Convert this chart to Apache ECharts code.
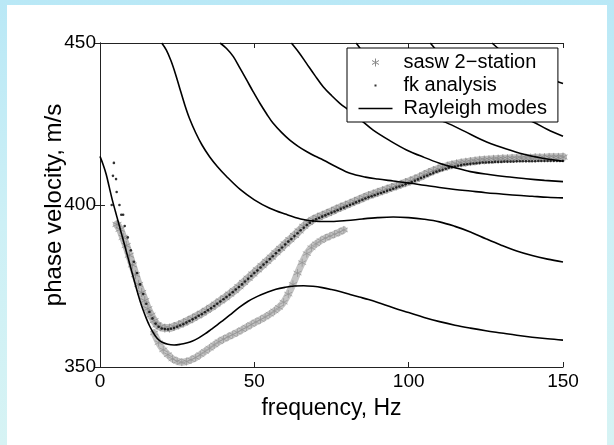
<!DOCTYPE html>
<html>
<head>
<meta charset="utf-8">
<script src="https://cdn.jsdelivr.net/npm/echarts@6/dist/echarts.min.js"></script>
<style>
html,body{margin:0;padding:0;width:614px;height:445px;overflow:hidden;}
body{background:linear-gradient(180deg,#b9e8f6 0%,#cdf0f6 50%,#d6f3f4 100%);position:relative;}
#panel{position:absolute;left:7px;top:5px;width:600px;height:440px;background:#fff;}
#chart{position:absolute;left:0;top:0;width:614px;height:445px;}
</style>
</head>
<body>
<div id="panel"></div>
<div id="chart"></div>
<script>
// Rayleigh mode dispersion curves [frequency Hz, phase velocity m/s]
const mode0 = [[0,415],[1,412.5],[2,409.5],[3,405.5],[4,401.5],[5,398],[6,394.5],[7,391],[8,387.5],[9,384],[10,380.5],[11,377],[12,373.5],[13,370.3],[14,367.5],[15,365],[16,362.8],[17,361],[18,359.5],[19,358.4],[20,357.7],[22,357],[24,356.8],[26,357],[28,357.4],[30,358],[32,359],[34,360.2],[36,361.6],[38,363],[40,364.5],[42,366],[45,368.3],[48,370.3],[51,371.8],[54,373],[57,374],[60,374.6],[63,375],[66,375.1],[69,374.9],[72,374.5],[75,373.9],[78,373.2],[81,372.4],[84,371.6],[87,370.8],[90,369.9],[95,368.3],[100,366.8],[105,365.3],[110,364],[115,362.9],[120,362],[125,361.2],[130,360.5],[135,359.8],[140,359.2],[145,358.7],[150,358.3]];
const mode1 = [[20,450],[21.5,447.8],[23,444.5],[24.5,440.3],[26,435.5],[27.5,430.8],[29,426.7],[31,422.3],[33,418.6],[35.5,414.9],[38,411.9],[41,408.8],[45.4,404.8],[50,401.6],[55,399],[60,397.2],[65,395.7],[70,395],[75,394.9],[80,395.2],[85,395.7],[90,396.1],[95,396.3],[100,396.1],[105,395.6],[110,394.8],[115,393.4],[120,391.7],[125,389.6],[130,387.6],[135,385.8],[140,384.4],[145,383.3],[150,382.4]];
const mode2 = [[38.9,450],[41,448.3],[43.2,445.8],[45.3,442.3],[47.5,438.6],[49.6,435],[51.8,431.4],[54,428.1],[56.1,425.2],[58.8,422.4],[61.5,420],[64.2,418.1],[66.9,416.5],[69.6,415.1],[72.3,413.9],[76.5,411.8],[81,409.8],[86,408.6],[90,408],[95,407.4],[100,406.8],[105,406.1],[110,405.4],[115,404.8],[120,404.3],[125,403.8],[130,403.4],[135,403],[140,402.7],[145,402.4],[150,402.2]];
const mode3 = [[62,450],[64.5,447],[66.9,443.7],[69.6,440],[72.3,436.5],[75,433.8],[77.7,431.4],[81,429],[84.8,426],[88.5,423.1],[94,419.8],[99.3,417],[105,414.7],[110,412.9],[115,411.5],[120,410.3],[126,409.4],[131.7,408.7],[138,408.1],[144,407.6],[150,407.2]];
const mode4 = [[83,450],[86,446],[89,441.5],[92,437.5],[95,434.5],[99,431],[104,428],[108,426.8],[112,425.5],[118,422.8],[124,420],[130,417.8],[136,416],[143,414.5],[150,413.5]];
const mode5 = [[107,450],[110,446.5],[113,442.5],[116,439],[120,435.5],[125,432],[130,429.5],[135,427.5],[140,425.8],[145,423.3],[150,421.2]];
const mode6 = [[127,450],[130,447.5],[134,444.5],[138,442],[142,440.3],[146,438.8],[150,437.5]];

// SASW 2-station measurements (two branches)
const saswUpper = [[5.5,394],[6.5,392.5],[7.5,390],[8.5,387.5],[9.5,384.5],[10.5,381.5],[11.5,378.5],[12.5,375.5],[13.5,373],[14.5,370.5],[15.5,368],[16.5,366],[17.5,364.3],[18.5,363],[19.5,362.4],[21,362],[22.5,362],[24,362.5],[25.5,363],[27,363.6],[28.5,364.3],[30,365],[31.5,365.8],[33,366.6],[34.5,367.5],[36,368.4],[37.5,369.4],[39,370.4],[40.5,371.4],[42,372.5],[43.5,373.6],[45,374.8],[46.5,376.1],[48,377.4],[49.5,378.7],[51,380],[52.5,381.3],[54,382.6],[55.5,383.9],[57,385.3],[58.5,386.6],[60,388],[61.5,389.3],[63,390.6],[64.5,392],[66,393.4],[67.5,394.6],[69,395.5],[70.5,396.2],[72,396.8],[73.5,397.4],[75,398],[76.5,398.7],[78,399.3],[79.5,399.9],[81,400.5],[82.5,401.1],[84,401.7],[85.5,402.3],[87,402.9],[88.5,403.4],[90,403.9],[91.5,404.4],[93,404.9],[94.5,405.4],[96,405.9],[97.5,406.4],[99,406.9],[100.5,407.4],[102,408],[103.5,408.6],[105,409.3],[106.5,410],[108,410.6],[109.5,411.1],[111,411.6],[112.5,412],[114,412.4],[115.5,412.7],[117,413],[118.5,413.2],[120,413.4],[121.5,413.6],[123,413.8],[124.5,413.9],[126,414],[127.5,414.1],[129,414.2],[130.5,414.3],[132,414.3],[133.5,414.4],[135,414.4],[136.5,414.5],[138,414.5],[139.5,414.5],[141,414.6],[142.5,414.6],[144,414.6],[145.5,414.7],[147,414.7],[148.5,414.7],[150,414.8]];
const saswLower = [[17.5,360.5],[19,357.5],[20.5,355.3],[22,353.8],[23.5,352.5],[25,351.8],[26.5,351.5],[28,351.7],[29.5,352.2],[31,352.9],[32.5,353.8],[34,354.8],[35.5,355.8],[37,356.8],[38.5,357.8],[40,358.6],[41.5,359.3],[43,360],[44.5,360.7],[46,361.5],[47.5,362.3],[49,363.1],[50.5,363.9],[52,364.6],[53.5,365.4],[55,366.3],[56.5,367.3],[58,368.4],[59.5,370],[61,372.5],[62.5,375.5],[64,379],[65.5,382.2],[67,385],[68.5,386.8],[70,388],[71.5,389],[73,389.8],[74.5,390.4],[76,391],[77.5,391.6],[79,392.3]];

// f-k analysis picks
const fkData = [[4.5,413],[4.2,409],[5.2,408],[5.4,404],[3.8,400],[6.3,400],[6.9,397],[7.5,397],[8,393.5],[9,390],[10,386],[11,382.5],[12,379],[13,375.5],[14,372.5],[15,369.5],[16,367],[17,365],[18,363.4],[19,362.4],[20,361.9],[21,361.7],[22,361.6],[23,361.8],[24,362],[25,362.4],[26,362.8],[27,363.2],[28,363.7],[29,364.2],[30,364.7],[31,365.2],[32,365.8],[33,366.3],[34,366.9],[35,367.5],[36,368.1],[37,368.8],[38,369.5],[39,370.2],[40,370.9],[41,371.6],[42,372.3],[43,373.1],[44,373.9],[45,374.7],[46,375.5],[47,376.4],[48,377.2],[49,378.1],[50,379],[51,379.8],[52,380.7],[53,381.6],[54,382.4],[55,383.3],[56,384.2],[57,385.1],[58,386],[59,386.9],[60,387.8],[61,388.7],[62,389.5],[63,390.4],[64,391.3],[65,392.2],[66,393],[67,393.8],[68,394.5],[69,395.1],[70,395.6],[71,396],[72,396.4],[73,396.8],[74,397.2],[75,397.6],[76,398],[77,398.4],[78,398.8],[79,399.2],[80,399.6],[81,400],[82,400.4],[83,400.8],[84,401.2],[85,401.6],[86,402],[87,402.4],[88,402.7],[89,403],[90,403.4],[91,403.7],[92,404],[93,404.4],[94,404.7],[95,405],[96,405.4],[97,405.7],[98,406],[99,406.4],[100,406.7],[101,407.1],[102,407.5],[103,407.9],[104,408.3],[105,408.7],[106,409.1],[107,409.5],[108,409.9],[109,410.3],[110,410.6],[111,410.9],[112,411.2],[113,411.5],[114,411.7],[115,411.9],[116,412.1],[117,412.3],[118,412.5],[119,412.6],[120,412.7],[121,412.8],[122,412.9],[123,413],[124,413.1],[125,413.1],[126,413.2],[127,413.2],[128,413.3],[129,413.3],[130,413.3],[131,413.4],[132,413.4],[133,413.4],[134,413.4],[135,413.5],[136,413.5],[137,413.5],[138,413.5],[139,413.5],[140,413.5],[141,413.5],[142,413.6],[143,413.6],[144,413.6],[145,413.6],[146,413.6],[147,413.6],[148,413.6],[149,413.6],[150,413.6]];

const xTicks = {min:0, max:150, interval:50};
const yTicks = {min:350, max:450, interval:50};
const names = {sasw:'sasw 2\u2212station', fk:'fk analysis', modes:'Rayleigh modes', x:'frequency, Hz', y:'phase velocity, m/s'};

const FONT = 'Liberation Sans, Arial, Helvetica, sans-serif';
const starPath = 'path://M0,-4L0,4M-3.5,-2L3.5,2M-3.5,2L3.5,-2';
const starIcon = 'path://M-17,-7M17,7M0,-4L0,4M-3.5,-2L3.5,2M-3.5,2L3.5,-2';
const dotIcon = 'path://M-17,-7M17,7M-1,-1L1,-1L1,1L-1,1Z';
const lineIcon = 'path://M-17,-7M17,7M-17,-0.8L17,-0.8L17,0.8L-17,0.8Z';

const modeList = [mode0, mode1, mode2, mode3, mode4, mode5, mode6];
const modeSeries = modeList.map(d => ({
  name: names.modes, type:'line', data:d, smooth:0.35, showSymbol:false, symbol:'none',
  lineStyle:{color:'#000', width:1.6}, itemStyle:{color:'#000'}, z:3, silent:true, animation:false
}));

// gray ribbon under the dense sasw asterisks
function saswBand(d, w, c) {
  return {name:names.sasw, type:'line', data:d, smooth:0.3, showSymbol:false, symbol:'none',
    lineStyle:{color:c, width:w, cap:'round', join:'round'}, itemStyle:{color:c}, z:1, silent:true};
}
function saswMarks(d, s, c) {
  return {name:names.sasw, type:'scatter', data:d, symbol:starPath, symbolSize:s,
    itemStyle:{color:'rgba(0,0,0,0)', borderColor:c, borderWidth:0.9}, z:2, silent:true};
}

const chart = echarts.init(document.getElementById('chart'), null, {renderer:'canvas'});
const axisCommon = {
  axisLine:{show:true, lineStyle:{color:'#222', width:1}},
  axisTick:{show:true, inside:true, length:5, lineStyle:{color:'#222', width:1}},
  splitLine:{show:false}
};
chart.setOption({
  animation:false,
  backgroundColor:'transparent',
  grid:{left:100, right:51, top:43, bottom:78, show:false},
  legend:{
    orient:'vertical', left:347, top:48,
    padding:[3,11,2,11], itemGap:0, itemWidth:34, itemHeight:14,
    borderColor:'#000', borderWidth:1, backgroundColor:'#fff',
    textStyle:{fontSize:20, lineHeight:23, fontFamily:FONT, color:'#000', padding:[0,0,0,6]},
    data:[
      {name:names.sasw, icon:starIcon, itemStyle:{color:'rgba(0,0,0,0)', borderColor:'#888', borderWidth:1}},
      {name:names.fk, icon:dotIcon, itemStyle:{color:'#000', borderWidth:0}},
      {name:names.modes, icon:lineIcon, itemStyle:{color:'#000', borderWidth:0}}
    ],
    selectedMode:false, z:10
  },
  xAxis:[
    Object.assign({type:'value', position:'bottom', min:xTicks.min, max:xTicks.max, interval:xTicks.interval,
      name:names.x, nameLocation:'middle', nameGap:30, nameMoveOverlap:false,
      nameTextStyle:{fontSize:23, fontFamily:FONT, color:'#000'},
      axisLabel:{fontSize:19, fontFamily:FONT, color:'#000', margin:5}}, axisCommon),
    Object.assign({type:'value', position:'top', min:xTicks.min, max:xTicks.max, interval:xTicks.interval,
      axisLabel:{show:false}}, axisCommon)
  ],
  yAxis:[
    Object.assign({type:'value', position:'left', min:yTicks.min, max:yTicks.max, interval:yTicks.interval,
      name:names.y, nameLocation:'middle', nameGap:34, nameRotate:90, nameMoveOverlap:false,
      nameTextStyle:{fontSize:24, fontFamily:FONT, color:'#000'},
      axisLabel:{fontSize:19, fontFamily:FONT, color:'#000', margin:4}}, axisCommon),
    Object.assign({type:'value', position:'right', min:yTicks.min, max:yTicks.max, interval:yTicks.interval,
      axisLabel:{show:false}}, axisCommon)
  ],
  series:[
    saswBand(saswUpper, 8, '#bcbcbc'),
    saswBand(saswLower, 7, '#c4c4c4'),
    saswMarks(saswUpper, 9, '#858585'),
    saswMarks(saswLower, 8, '#939393'),
    {name:names.fk, type:'scatter', data:fkData, symbol:'circle', symbolSize:2.6,
     itemStyle:{color:'#000'}, z:4, silent:true}
  ].concat(modeSeries)
});
</script>
</body>
</html>
